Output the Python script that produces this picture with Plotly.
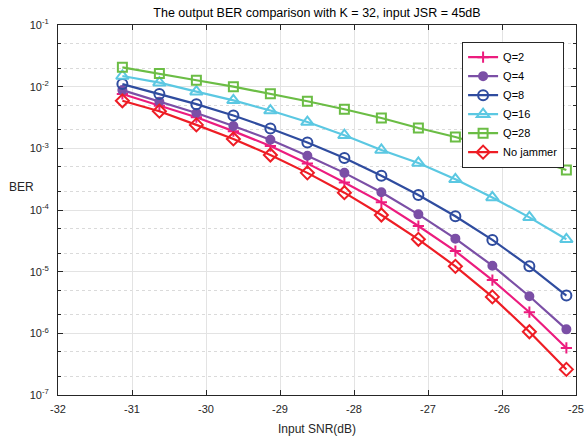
import plotly.graph_objects as go

snr = [-31.13, -30.63, -30.13, -29.63, -29.13, -28.63, -28.13,
       -27.63, -27.13, -26.63, -26.13, -25.63, -25.13]

ber_q2 = [7.6e-3, 4.9e-3, 3.2e-3, 1.9e-3, 1.09e-3, 5.7e-4, 2.8e-4,
          1.33e-4, 5.5e-5, 2.16e-5, 7.3e-6, 2.2e-6, 5.8e-7]
ber_q4 = [8.8e-3, 5.7e-3, 3.74e-3, 2.3e-3, 1.38e-3, 7.6e-4, 4.0e-4,
          1.94e-4, 8.5e-5, 3.43e-5, 1.25e-5, 4.0e-6, 1.16e-6]
ber_q8 = [1.1e-2, 7.6e-3, 5.2e-3, 3.4e-3, 2.1e-3, 1.24e-3, 7.0e-4,
          3.6e-4, 1.75e-4, 7.9e-5, 3.27e-5, 1.22e-5, 4.1e-6]
ber_q16 = [1.49e-2, 1.16e-2, 8.3e-3, 6.0e-3, 4.1e-3, 2.67e-3, 1.63e-3,
           9.4e-4, 5.8e-4, 3.15e-4, 1.6e-4, 7.6e-5, 3.35e-5]
ber_q28 = [2.06e-2, 1.64e-2, 1.27e-2, 1.0e-2, 7.7e-3, 5.8e-3, 4.3e-3,
           3.1e-3, 2.14e-3, 1.53e-3, 1.03e-3, 7.0e-4, 4.46e-4]
ber_nj = [5.9e-3, 4.0e-3, 2.4e-3, 1.42e-3, 7.8e-4, 4.0e-4, 1.91e-4,
          8.3e-5, 3.35e-5, 1.22e-5, 3.9e-6, 1.06e-6, 2.6e-7]

names = ["Q=2", "Q=4", "Q=8", "Q=16", "Q=28", "No jammer"]
series = [ber_q2, ber_q4, ber_q8, ber_q16, ber_q28, ber_nj]
colors = ["#EC1C7E", "#7B4FA6", "#2F4C9F", "#5BC8E2", "#6BBD45", "#EE1D25"]
symbols = ["cross-thin", "circle", "circle-open", "triangle-up-open",
           "square-open", "diamond-open"]
sizes = [8, 8, 10, 11, 9, 10]

xtick_vals = [-32, -31, -30, -29, -28, -27, -26, -25]
ytick_vals = [1e-7, 1e-6, 1e-5, 1e-4, 1e-3, 1e-2, 1e-1]
ytick_text = ["10<sup>-7</sup>", "10<sup>-6</sup>", "10<sup>-5</sup>",
              "10<sup>-4</sup>", "10<sup>-3</sup>", "10<sup>-2</sup>",
              "10<sup>-1</sup>"]

FONT = "Liberation Sans, Arial, sans-serif"

fig = go.Figure()
for name, ys, c, s, sz in zip(names, series, colors, symbols, sizes):
    fig.add_trace(go.Scatter(
        x=snr, y=ys, name=name, mode="lines+markers",
        line=dict(color=c, width=2.2),
        marker=dict(symbol=s, size=sz, color=c,
                    line=dict(color=c, width=2)),
    ))

fig.update_layout(
    width=587, height=437,
    margin=dict(l=57.5, r=11, t=25, b=42, autoexpand=False),
    paper_bgcolor="white", plot_bgcolor="white",
    font=dict(family=FONT, size=11, color="#262626"),
    title=dict(text="The output BER comparison with K = 32, input JSR = 45dB",
               x=0.5, xanchor="center", xref="paper", y=0.97, yanchor="middle",
               font=dict(family=FONT, size=12.5, color="#000000")),
    showlegend=True,
    legend=dict(x=0.977, y=0.955, xanchor="right", yanchor="top",
                bgcolor="white", bordercolor="#262626", borderwidth=1,
                font=dict(family=FONT, size=11, color="#000000"),
                itemwidth=30, tracegroupgap=0),
)

fig.update_xaxes(
    range=[-32, -25], tickvals=xtick_vals, ticktext=[str(v) for v in xtick_vals],
    automargin=False,
    showgrid=True, gridcolor="#E3E3E3", gridwidth=1,
    showline=True, linecolor="#262626", linewidth=1, mirror="allticks",
    ticks="inside", ticklen=5, tickcolor="#262626",
    ticklabelstandoff=4,
    zeroline=False,
    title=dict(text="Input SNR(dB)", standoff=10, font=dict(size=12, color="#262626")),
)

fig.update_yaxes(
    type="log", range=[-7, -1], tickvals=ytick_vals, ticktext=ytick_text,
    automargin=False,
    showgrid=True, gridcolor="#E3E3E3", gridwidth=1,
    showline=True, linecolor="#262626", linewidth=1, mirror="allticks",
    ticks="inside", ticklen=5, tickcolor="#262626",
    ticklabelstandoff=6,
    minor=dict(ticks="inside", ticklen=3, tickcolor="#262626",
               showgrid=True, gridcolor="#DADADA", griddash="dot", gridwidth=1),
    zeroline=False,
)

fig.add_annotation(text="BER", x=-0.043, y=0.562, xref="paper", yref="paper",
                   xanchor="right", yanchor="middle", showarrow=False,
                   font=dict(family=FONT, size=12, color="#262626"))

fig.write_html("out.html")
